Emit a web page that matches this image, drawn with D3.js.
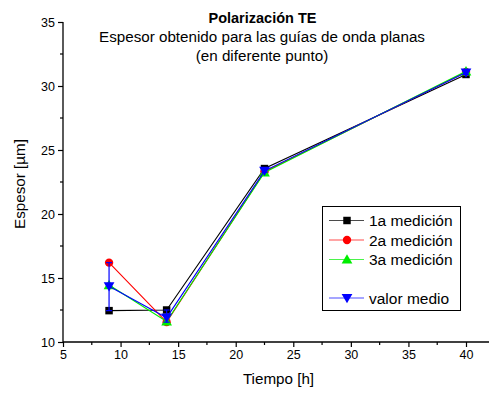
<!DOCTYPE html>
<html>
<head>
<meta charset="utf-8">
<script src="https://cdn.jsdelivr.net/npm/d3@7"></script>
<style>
  html, body { margin: 0; padding: 0; background: #fff; }
  svg { display: block; font-family: Arial, "Liberation Sans", sans-serif; }
</style>
</head>
<body>
<svg id="chart" width="489" height="394"></svg>
<script>
// Measurement times [h]
const tiempos = [9, 14, 22.5, 40];
// Thickness readings [µm] for each measurement
const medicion1 = [12.45, 12.5, 23.55, 30.9];
const medicion2 = [16.2, 11.55, 23.3, 31.1];
const medicion3 = [14.45, 11.6, 23.25, 31.15];
const valorMedio = [14.35, 11.9, 23.37, 31.05];

const xTicks = [5, 10, 15, 20, 25, 30, 35, 40];
const yTicks = [10, 15, 20, 25, 30, 35];

const titulo = "Polarización TE";
const subtitulo = ["Espesor obtenido para las guías de onda planas", "(en diferente punto)"];

const svg = d3.select("#chart");
const x = d3.scaleLinear().domain([5, 40]).range([63, 466]);
const y = d3.scaleLinear().domain([10, 35]).range([342, 22]);

// Axes: left and bottom only, ticks outward
const xAxisG = svg.append("g").attr("transform", "translate(0,342)");
xAxisG.append("line").attr("x1", 63).attr("x2", 489).attr("y1", 0).attr("y2", 0)
  .attr("stroke", "#000").attr("stroke-width", 1.3);
xAxisG.call(d3.axisBottom(x).tickValues(xTicks).tickSize(5).tickSizeOuter(0).tickPadding(3))
  .call(g => g.select(".domain").remove());
xAxisG.selectAll(".tick line").attr("stroke-width", 1.2);
xAxisG.selectAll("text").attr("font-size", 12.5).attr("font-family", "Arial, 'Liberation Sans', sans-serif").attr("fill", "#000");
xAxisG.selectAll(".minor").data(d3.range(7.5, 45, 5)).join("line")
  .attr("x1", d => x(d)).attr("x2", d => x(d)).attr("y1", 0).attr("y2", 3)
  .attr("stroke", "#000").attr("stroke-width", 1.2);

const yAxisG = svg.append("g").attr("transform", "translate(63,0)");
yAxisG.call(d3.axisLeft(y).tickValues(yTicks).tickSize(5).tickSizeOuter(0).tickPadding(3))
  .call(g => g.select(".domain").attr("stroke-width", 1.3).attr("d", "M0,342V22"));
yAxisG.selectAll(".tick line").attr("stroke-width", 1.2);
yAxisG.selectAll("text").attr("font-size", 12.5).attr("font-family", "Arial, 'Liberation Sans', sans-serif").attr("fill", "#000");
yAxisG.selectAll(".minor").data(d3.range(12.5, 35, 5)).join("line")
  .attr("x1", 0).attr("x2", -3).attr("y1", d => y(d)).attr("y2", d => y(d))
  .attr("stroke", "#000").attr("stroke-width", 1.2);

// Titles
svg.append("text").attr("x", 262.5).attr("y", 23).attr("text-anchor", "middle")
  .attr("font-size", 14.5).attr("font-weight", "bold").text(titulo);
subtitulo.forEach((t, i) => {
  svg.append("text").attr("x", 262).attr("y", 41.5 + i * 19.5).attr("text-anchor", "middle")
    .attr("font-size", 15.2).text(t);
});

// Axis labels
svg.append("text").attr("x", 278.5).attr("y", 384).attr("text-anchor", "middle")
  .attr("font-size", 15.2).text("Tiempo [h]");
svg.append("text").attr("transform", "translate(25,184) rotate(-90)").attr("text-anchor", "middle")
  .attr("font-size", 15.2).text("Espesor [µm]");

const series = [
  { name: "1a medición", values: medicion1, color: "#000000", shape: d3.symbolSquare, size: 56, rot: 0 },
  { name: "2a medición", values: medicion2, color: "#ff0000", shape: d3.symbolCircle, size: 55, rot: 0 },
  { name: "3a medición", values: medicion3, color: "#00ee00", shape: d3.symbolTriangle, size: 50, rot: 0 },
  { name: "valor medio", values: valorMedio, color: "#0000ff", shape: d3.symbolTriangle, size: 50, rot: 180 }
];

const line = d3.line().x(d => x(d[0])).y(d => y(d[1]));

// Spread of the three measurements around the mean (error bars)
const errLo = tiempos.map((t, i) => Math.min(medicion1[i], medicion2[i], medicion3[i]));
const errHi = tiempos.map((t, i) => Math.max(medicion1[i], medicion2[i], medicion3[i]));

series.forEach((s, si) => {
  const pts = tiempos.map((t, i) => [t, s.values[i]]);
  if (si === 3) {
    const eb = svg.append("g");
    tiempos.forEach((t, i) => {
      eb.append("line").attr("x1", x(t)).attr("x2", x(t)).attr("y1", y(errLo[i])).attr("y2", y(errHi[i]))
        .attr("stroke", s.color).attr("stroke-width", 1.2);
      [errLo[i], errHi[i]].forEach(v => eb.append("line")
        .attr("x1", x(t) - 3).attr("x2", x(t) + 3).attr("y1", y(v)).attr("y2", y(v))
        .attr("stroke", s.color).attr("stroke-width", 1.2));
    });
  }
  svg.append("path").attr("d", line(pts)).attr("fill", "none")
    .attr("stroke", s.color).attr("stroke-width", 1.1);
  svg.append("g").selectAll("path").data(pts).join("path")
    .attr("transform", d => `translate(${x(d[0])},${y(d[1]) + (s.rot ? -1 : (s.shape === d3.symbolTriangle ? 1 : 0))}) rotate(${s.rot})`)
    .attr("d", d3.symbol().type(s.shape).size(s.size))
    .attr("fill", s.color);
});

// Legend
const lg = svg.append("g");
lg.append("rect").attr("x", 322.5).attr("y", 206.5).attr("width", 138).attr("height", 104)
  .attr("fill", "#fff").attr("stroke", "#000").attr("stroke-width", 1);
const legendY = [220.5, 240, 259.5, 298];
series.forEach((s, i) => {
  const ly = legendY[i];
  lg.append("line").attr("x1", 329).attr("x2", 364).attr("y1", ly).attr("y2", ly)
    .attr("stroke", s.color).attr("stroke-width", 1.1).attr("opacity", 0.7);
  lg.append("path").attr("transform", `translate(347,${ly + (s.rot ? -1 : (s.shape === d3.symbolTriangle ? 1 : 0))}) rotate(${s.rot})`)
    .attr("d", d3.symbol().type(s.shape).size(s.size)).attr("fill", s.color);
  lg.append("text").attr("x", 369).attr("y", ly + 5.5).attr("font-size", 15.5).text(s.name);
});
</script>
</body>
</html>
